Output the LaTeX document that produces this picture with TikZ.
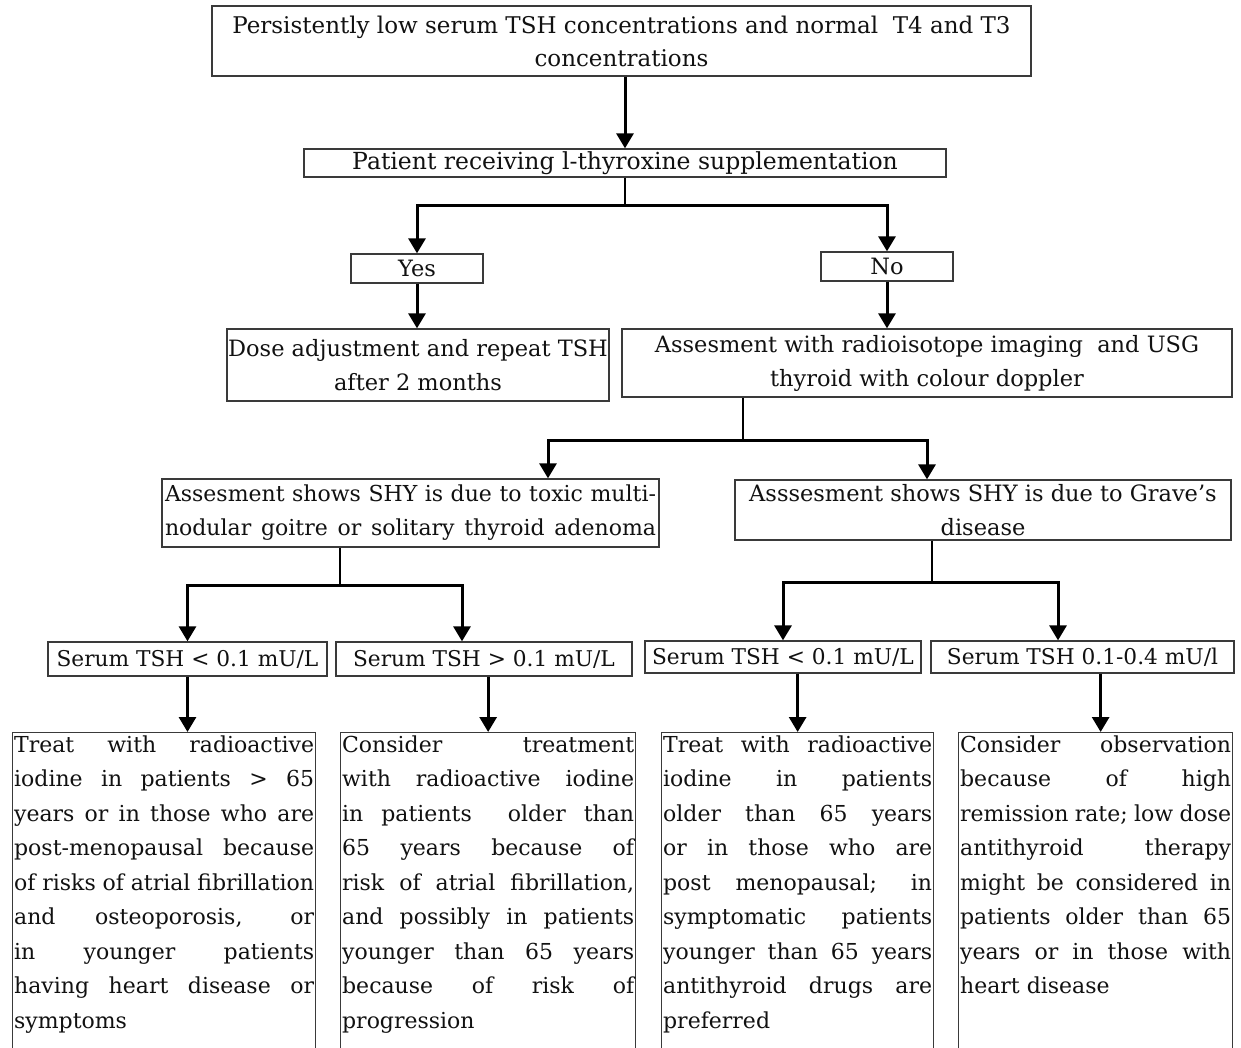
\documentclass[tikz,border=0pt]{standalone}
\usepackage{fontspec}
\setmainfont{DejaVu Serif}
\usetikzlibrary{arrows.meta}
\definecolor{tshInk}{HTML}{111111}
\definecolor{tshFrame}{HTML}{3A3A3A}
\newcommand{\tshupper}{\fontsize{22.5pt}{34pt}\selectfont}
\newcommand{\tshlower}{\fontsize{22pt}{34.5pt}\selectfont
  \spaceskip=.318em plus 1fil minus .2em\relax
  \parfillskip=0pt plus 1fill\relax
  \hyphenpenalty=10000\exhyphenpenalty=10000\relax}
\newcommand{\tshfull}{\fontsize{22pt}{34pt}\selectfont
  \spaceskip=.318em plus 1fil minus .2em\relax
  \parfillskip=0pt\relax}
\tikzset{
  tsh box/.style={draw=tshFrame, line width=1.3pt, inner sep=0pt,
    align=center, font=\tshupper, text=tshInk},
  tsh serum/.style={tsh box, font=\fontsize{21.7pt}{34pt}\selectfont},
  tsh out/.style={draw=tshFrame, line width=1.3pt, inner xsep=1.5pt,
    inner ysep=3pt, anchor=north west, text=tshInk},
  tsh arrow/.style={draw=black, line width=3pt,
    -{Triangle[length=15pt,width=17pt]}},
  tsh fork/.style={draw=black, line width=3pt,
    {Triangle[length=15pt,width=17pt]}-{Triangle[length=15pt,width=17pt]}},
  tsh stem/.style={draw=black, line width=1.2pt}
}
\begin{document}
\begin{tikzpicture}[x=1pt,y=-1pt]
  \path[use as bounding box, fill=white] (0,0) rectangle (1241,1048);

  % boxes
  \node[tsh box, minimum width=819pt, minimum height=70pt,
    font=\fontsize{23pt}{33pt}\selectfont] (low) at (621.5,41)
    {Persistently low serum TSH concentrations and normal~ T4 and T3\\concentrations};
  \node[tsh box, minimum width=642pt, minimum height=28pt,
    font=\fontsize{23.5pt}{34pt}\selectfont] (recv) at (625,163)
    {Patient receiving l-thyroxine supplementation};
  \node[tsh box, minimum width=132pt, minimum height=29pt] (yes) at (417,268.5) {Yes};
  \node[tsh box, minimum width=132pt, minimum height=29pt] (no) at (887,266.5) {No};
  \node[tsh box, minimum width=382pt, minimum height=72pt] (dose) at (418,365)
    {Dose adjustment and repeat TSH\\after 2 months};
  \node[tsh box, minimum width=610pt, minimum height=68pt] (scan) at (927,363)
    {Assesment with radioisotope imaging~ and USG\\thyroid with colour doppler};
  \node[tsh box, minimum width=497pt, minimum height=68pt] (toxic) at (410.5,513)
    {\parbox{491pt}{\tshfull Assesment shows SHY is due to toxic multi-\linebreak
      nodular goitre or solitary thyroid adenoma}};
  \node[tsh box, minimum width=496pt, minimum height=60pt] (graves) at (983,510)
    {Asssesment shows SHY is due to Grave’s\\disease};

  \node[tsh serum, minimum width=279pt, minimum height=34pt] (low1) at (187.5,659)
    {Serum TSH < 0.1 mU/L};
  \node[tsh serum, minimum width=296pt, minimum height=34pt] (high1) at (484,659)
    {Serum TSH > 0.1 mU/L};
  \node[tsh serum, minimum width=276pt, minimum height=32pt] (low2) at (783,657)
    {Serum TSH < 0.1 mU/L};
  \node[tsh serum, minimum width=303pt, minimum height=32pt] (mid2) at (1082.5,657)
    {Serum TSH 0.1-0.4 mU/l};

  \node[tsh out] (out1) at (12,732) {\parbox[t][312pt][t]{300pt}{\tshlower
    Treat with radioactive\linebreak
    iodine in patients > 65\linebreak
    years or in those who are\linebreak
    post-menopausal because\linebreak
    of risks of atrial fibrillation\linebreak
    and osteoporosis, or\linebreak
    in younger patients\linebreak
    having heart disease or\linebreak
    symptoms}};
  \node[tsh out] (out2) at (340,732) {\parbox[t][312pt][t]{292pt}{\tshlower
    Consider treatment\linebreak
    with radioactive iodine\linebreak
    in patients~ older than\linebreak
    65 years because of\linebreak
    risk of atrial fibrillation,\linebreak
    and possibly in patients\linebreak
    younger than 65 years\linebreak
    because of risk of\linebreak
    progression}};
  \node[tsh out] (out3) at (661,732) {\parbox[t][312pt][t]{269pt}{\tshlower
    Treat with radioactive\linebreak
    iodine in patients\linebreak
    older than 65 years\linebreak
    or in those who are\linebreak
    post menopausal; in\linebreak
    symptomatic patients\linebreak
    younger than 65 years\linebreak
    antithyroid drugs are\linebreak
    preferred}};
  \node[tsh out] (out4) at (958,732) {\parbox[t][312pt][t]{271pt}{\tshlower
    Consider observation\linebreak
    because of high\linebreak
    remission rate; low dose\linebreak
    antithyroid therapy\linebreak
    might be considered in\linebreak
    patients older than 65\linebreak
    years or in those with\linebreak
    heart disease}};

  % connectors
  \coordinate (split1) at (625,206);
  \coordinate (split2a) at (548,440);
  \coordinate (split2) at (743,440);
  \coordinate (split2b) at (927,440);
  \coordinate (split3) at (340,585);
  \coordinate (split3b) at (462,585);
  \coordinate (split4) at (932,582);
  \coordinate (split4b) at (1058,582);

  \draw[tsh arrow] (recv.north |- low.south) -- (recv.north);
  \draw[tsh stem] (recv.south) -- (split1);
  \draw[tsh fork] (yes.north) |- (no.north |- split1) -- (no.north);
  \draw[tsh arrow] (yes.south) -- (yes.south |- dose.north);
  \draw[tsh arrow] (no.south) -- (no.south |- scan.north);

  \draw[tsh stem] (split2 |- scan.south) -- (split2);
  \draw[tsh fork] (split2a |- toxic.north) |- (split2b) -- (split2b |- graves.north);

  \draw[tsh stem] (split3 |- toxic.south) -- (split3);
  \draw[tsh fork] (low1.north) |- (split3b) -- (split3b |- high1.north);
  \draw[tsh stem] (split4 |- graves.south) -- (split4);
  \draw[tsh fork] (low2.north) |- (split4b) -- (split4b |- mid2.north);

  \draw[tsh arrow] (low1.south) -- (low1.south |- out1.north);
  \draw[tsh arrow] (out2.north |- high1.south) -- (out2.north);
  \draw[tsh arrow] (out3.north |- low2.south) -- (out3.north);
  \draw[tsh arrow] ([xshift=5pt]out4.north |- mid2.south) -- ([xshift=5pt]out4.north);
\end{tikzpicture}
\end{document}
